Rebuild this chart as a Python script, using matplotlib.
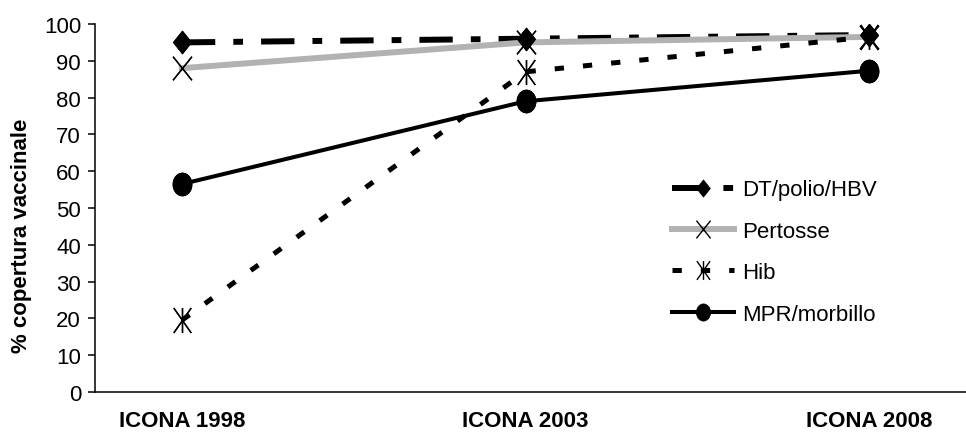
import matplotlib
matplotlib.use("Agg")
import matplotlib.pyplot as plt
from matplotlib.path import Path
from matplotlib.transforms import Affine2D

plt.rcParams["font.family"] = ["Liberation Sans", "DejaVu Sans"]
plt.rcParams["lines.scale_dashes"] = False

surveys = ["ICONA 1998", "ICONA 2003", "ICONA 2008"]
dt_polio_hbv = [95, 96, 97]
pertosse = [88, 95, 96.5]
hib = [19.5, 87, 96.5]
mpr_morbillo = [56.5, 79, 87.3]

M, L, C = Path.MOVETO, Path.LINETO, Path.CLOSEPOLY

# marker shapes (slightly taller than wide)
diamond = Path([(0, 1), (0.8, 0), (0, -1), (-0.8, 0), (0, 1)], [M, L, L, L, C])
cross = Path([(-0.8, -1), (0.8, 1), (-0.8, 1), (0.8, -1)], [M, L, M, L])
asterisk = Path([(0, -1), (0, 1), (-0.7, -1), (0.7, 1), (-0.7, 1), (0.7, -1)],
                [M, L, M, L, M, L])
ellipse = Affine2D().scale(0.83, 1).transform_path(Path.unit_circle())

series = [
    (dt_polio_hbv, "DT/polio/HBV",
     dict(color="black", lw=4.3, dashes=(24, 13, 7, 13), marker=diamond,
          ms=16.5, mfc="black", mec="black", mew=0.5)),
    (pertosse, "Pertosse",
     dict(color="#b2b2b2", lw=4.3, marker=cross, ms=17, mfc="none",
          mec="black", mew=1)),
    (hib, "Hib",
     dict(color="black", lw=3.6, dashes=(6.7, 13.7), marker=asterisk,
          ms=18, mfc="none", mec="black", mew=1)),
    (mpr_morbillo, "MPR/morbillo",
     dict(color="black", lw=2.9, marker=ellipse, ms=16.5, mfc="black",
          mec="black", mew=0.5)),
]

fig = plt.figure(figsize=(9.66, 4.35), dpi=100)
ax = fig.add_axes([95 / 966, 1 - 393 / 435, 871 / 966, 368 / 435])

x = list(range(len(surveys)))
handles = []
for i, (vals, name, style) in enumerate(series):
    h, = ax.plot(x, vals, label=name, zorder=2 + i * 0.1, **style)
    handles.append(h)

# markers on top of every line
for vals, name, style in series:
    ax.plot(x, vals, ls="none", marker=style["marker"], ms=style["ms"],
            mfc=style["mfc"], mec=style["mec"], mew=style["mew"], zorder=5)

ax.set_xlim(-0.253, 2.282)
ax.set_ylim(0, 100)
ax.set_yticks(range(0, 101, 10))
ax.set_xticks(x)
ax.set_xticklabels(surveys, fontweight="bold")

for side in ("top", "right"):
    ax.spines[side].set_visible(False)
for side in ("left", "bottom"):
    ax.spines[side].set_linewidth(1.1)

ax.tick_params(axis="y", direction="out", length=5, width=1.1, pad=5,
               labelsize=16)
ax.tick_params(axis="x", length=0, pad=13, labelsize=16)

ax.set_ylabel("% copertura vaccinale", fontsize=16, fontweight="bold")
ax.yaxis.set_label_coords(-0.072, 0.427)

ax.legend(handles=handles, loc="upper left", bbox_to_anchor=(0.6625, 0.578),
          frameon=False, fontsize=16, handlelength=2.8, handletextpad=0.36,
          labelspacing=0.92, borderpad=0, borderaxespad=0, markerscale=0.75)

fig.savefig("out.png", dpi=100)
